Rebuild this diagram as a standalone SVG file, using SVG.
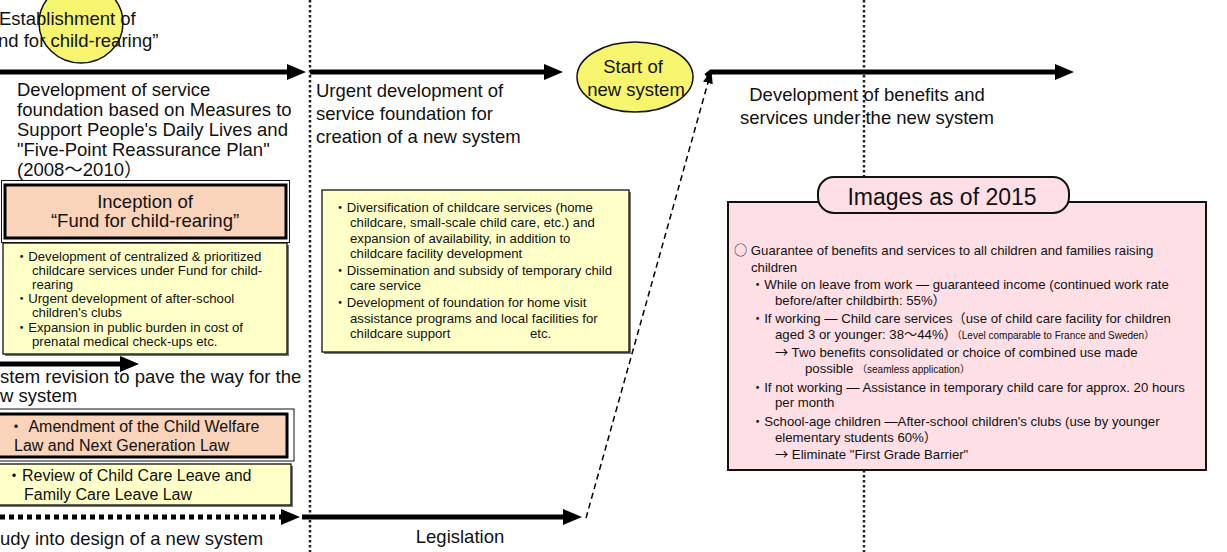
<svg xmlns="http://www.w3.org/2000/svg" width="1227" height="552" viewBox="0 0 1227 552">
<style>
text{font-family:"Liberation Sans","Noto Sans CJK JP",sans-serif;fill:#111;}
.t{font-size:18.5px;}
.s{font-size:13.2px;}
.m{font-size:16px;}
.xs{font-size:10px;}
.cjk{font-family:"Noto Sans CJK JP",sans-serif;}
.c{text-anchor:middle;}
.vline{stroke:#222;stroke-width:2.5;stroke-dasharray:2.5 2.5;fill:none;}
.thick{stroke:#000;stroke-width:5;fill:none;marker-end:url(#ah);}
.dots{stroke:#000;stroke-width:5;fill:none;stroke-dasharray:5 4;marker-end:url(#ah);}
.dash{stroke:#000;stroke-width:1.5;fill:none;stroke-dasharray:6 4;marker-end:url(#ahs);}
.yel{fill:#FFFFC8;stroke:#111;stroke-width:1.3;}
.peach{fill:#F9D3BA;}
.shadow{fill:#777;}
.pink{fill:#FDDFE5;stroke:#111;stroke-width:2;}
</style>
<defs>
<marker id="ah" markerUnits="userSpaceOnUse" markerWidth="20" markerHeight="18" refX="5" refY="8" orient="auto"><path d="M0,0 L19,8 L0,16 z" fill="#000"/></marker>
<marker id="ahs" markerUnits="userSpaceOnUse" markerWidth="14" markerHeight="12" refX="4" refY="5" orient="auto"><path d="M0,0 L13,5 L0,10 z" fill="#000"/></marker>
</defs>
<rect width="1227" height="552" fill="#fff"/>

<g id="dividers">
<line class="vline" x1="310" y1="0" x2="310" y2="552"/>
<line class="vline" x1="864" y1="0" x2="864" y2="552"/>
</g>

<g id="connectors">
<line class="thick" x1="-5" y1="72" x2="292" y2="72"/>
<line class="thick" x1="310" y1="72" x2="549" y2="72"/>
<polyline class="thick" points="706,76 711,72 1060,72"/>
<line class="thick" x1="-5" y1="364" x2="125" y2="364"/>
<line class="dots" x1="0" y1="517" x2="286" y2="517"/>
<line class="thick" x1="302" y1="517" x2="568" y2="517"/>
<line class="dash" x1="586" y1="518" x2="709" y2="79"/>
</g>

<g id="establishment">
<ellipse cx="81" cy="23" rx="42" ry="40" fill="#F7F56E" stroke="#111" stroke-width="1.5"/>
<text class="t" x="-1" y="25">Establishment of</text>
<text class="t" x="-2" y="47">nd for child-rearing”</text>
</g>

<g id="label-dev-service">
<text class="t" x="17" y="96">Development of service</text>
<text class="t" x="17" y="116">foundation based on Measures to</text>
<text class="t" x="17" y="136">Support People's Daily Lives and</text>
<text class="t" x="17" y="156">"Five-Point Reassurance Plan"</text>
<text class="t" x="17" y="176">(2008〜2010）</text>
</g>

<g id="inception">
<rect x="1.5" y="180.5" width="288" height="62" fill="#fff" stroke="#111" stroke-width="1"/>
<rect class="peach" x="5" y="185" width="281" height="53" stroke="#000" stroke-width="3"/>
<text class="t c" x="145" y="208">Inception of</text>
<text class="t c" x="145" y="227">“Fund for child-rearing”</text>
</g>

<g id="fund-measures">
<rect class="shadow" x="5" y="245" width="284" height="111"/>
<rect class="yel" x="3" y="243" width="284" height="111"/>
<text class="s" x="15" y="261">・Development of centralized &amp; prioritized</text>
<text class="s" x="32" y="275">childcare services  under Fund for child-</text>
<text class="s" x="32" y="289">rearing</text>
<text class="s" x="15" y="303">・Urgent development of after-school</text>
<text class="s" x="32" y="317">children's clubs</text>
<text class="s" x="15" y="332">・Expansion in public burden in cost of</text>
<text class="s" x="32" y="346">prenatal medical check-ups  etc.</text>
</g>

<g id="label-system-revision">
<text class="t" x="0" y="383">stem revision to pave the way for the</text>
<text class="t" x="0" y="402">w system</text>
</g>

<g id="amendment">
<rect x="-5" y="409" width="299" height="52" fill="#fff" stroke="#111" stroke-width="1"/>
<rect class="peach" x="-3" y="414" width="290" height="43" stroke="#000" stroke-width="3"/>
<text class="m" x="8" y="432">・ Amendment of the Child Welfare</text>
<text class="m" x="14" y="451">Law and Next Generation Law</text>
</g>

<g id="review">
<rect class="shadow" x="-3" y="466" width="296" height="41"/>
<rect class="yel" x="-5" y="464" width="296" height="41"/>
<text class="m" x="6" y="481">・Review of Child Care Leave and</text>
<text class="m" x="24" y="500">Family Care Leave Law</text>
</g>

<g id="label-study">
<text class="t" x="0" y="545">udy into design of a new system</text>
</g>

<g id="label-urgent">
<text class="t" x="316" y="97">Urgent development of</text>
<text class="t" x="316" y="120">service foundation for</text>
<text class="t" x="316" y="143">creation of a new system</text>
</g>

<g id="urgent-measures">
<rect class="shadow" x="324" y="192" width="307" height="162"/>
<rect class="yel" x="322" y="190" width="307" height="162"/>
<text class="s" x="333.5" y="212">・Diversification of childcare services (home</text>
<text class="s" x="350" y="227">childcare, small-scale child care, etc.) and</text>
<text class="s" x="350" y="243">expansion of availability, in addition to</text>
<text class="s" x="350" y="258">childcare facility development</text>
<text class="s" x="333.5" y="275">・Dissemination and subsidy of temporary child</text>
<text class="s" x="350" y="290">care service</text>
<text class="s" x="333.5" y="307">・Development of foundation for home visit</text>
<text class="s" x="350" y="323">assistance programs and local facilities for</text>
<text class="s" x="350" y="338">childcare support</text>
<text class="s" x="530" y="338">etc.</text>
</g>

<g id="legislation">
<text class="t c" x="460" y="543">Legislation</text>
</g>

<g id="start-new-system">
<ellipse cx="635" cy="77" rx="58" ry="35" fill="#F7F56E" stroke="#111" stroke-width="1.5"/>
<text class="t c" x="633" y="73">Start of</text>
<text class="t c" x="636" y="96">new system</text>
</g>

<g id="label-benefits">
<text class="t c" x="867" y="101">Development of benefits and</text>
<text class="t c" x="867" y="124">services under the new system</text>
</g>

<g id="images-2015">
<rect class="pink" x="728" y="202" width="478" height="268"/>
<rect class="pink" x="818" y="177" width="251" height="36" rx="16" ry="16" stroke-width="2.5"/>
<text class="c" x="942" y="205" style="font-size:23px">Images as of 2015</text>
<text class="s" x="734" y="255"><tspan class="cjk">○</tspan> Guarantee of benefits and services to all children and families raising</text>
<text class="s" x="751" y="272">children</text>
<text class="s" x="751" y="289">・While on leave from work — guaranteed income (continued work rate</text>
<text class="s" x="775" y="305">before/after childbirth: 55%）</text>
<text class="s" x="751" y="323">・If working — Child care services（use of child care facility for children</text>
<text class="s" x="775" y="339">aged 3 or younger: 38〜44%）<tspan class="xs">（Level comparable to France and Sweden）</tspan></text>
<text class="s" x="775" y="357"><tspan class="cjk">→</tspan> Two benefits consolidated or choice of combined use made</text>
<text class="s" x="805" y="373">possible <tspan class="xs">（seamless application）</tspan></text>
<text class="s" x="751" y="392">・If not working — Assistance in temporary child care for approx. 20 hours</text>
<text class="s" x="775" y="407">per month</text>
<text class="s" x="751" y="426">・School-age children —After-school children's clubs (use by younger</text>
<text class="s" x="775" y="442">elementary students 60%）</text>
<text class="s" x="775" y="459"><tspan class="cjk">→</tspan> Eliminate "First Grade Barrier"</text>
</g>
</svg>
